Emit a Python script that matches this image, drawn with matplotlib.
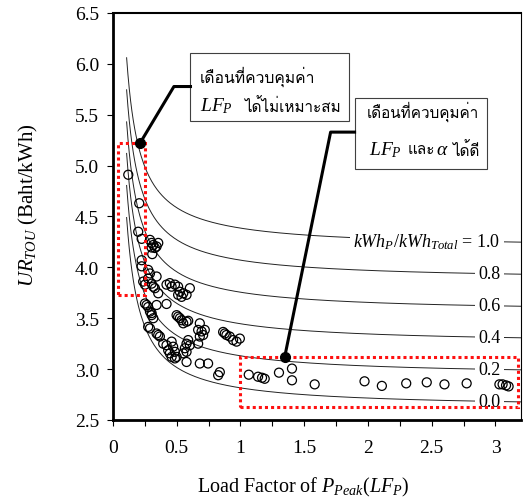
import numpy as np
import matplotlib
matplotlib.use('Agg')
import matplotlib.pyplot as plt
from matplotlib import font_manager, ft2font
from matplotlib.patches import Rectangle

# measured months: load factor of peak power vs TOU unit rate
lf_p = [0.12, 0.206, 0.198, 0.225, 0.29, 0.303, 0.316, 0.355, 0.342, 0.303, 0.329, 0.308,
        0.225, 0.225, 0.276, 0.29, 0.342, 0.276, 0.237, 0.251, 0.303, 0.316, 0.329, 0.355,
        0.42, 0.446, 0.46, 0.486, 0.511, 0.525, 0.511, 0.538, 0.551, 0.577, 0.603,
        0.251, 0.264, 0.276, 0.342, 0.42, 0.29, 0.303, 0.303, 0.316,
        0.499, 0.511, 0.525, 0.538, 0.577, 0.551, 0.59,
        0.681, 0.668, 0.695, 0.72, 0.707, 0.681,
        0.864, 0.877, 0.89, 0.916, 0.942, 0.969, 0.995,
        0.276, 0.29, 0.342, 0.355, 0.368, 0.394, 0.42, 0.46, 0.472, 0.433, 0.446, 0.486,
        0.46, 0.486, 0.499, 0.577, 0.59, 0.603, 0.564, 0.577, 0.551, 0.668,
        0.577, 0.681, 0.746, 0.838, 0.825,
        1.065, 1.138, 1.169, 1.19, 1.302, 1.404, 1.404, 1.582, 1.973, 2.109, 2.3,
        2.461, 2.6, 2.774, 3.031, 3.056, 3.083, 3.103]
ur_tou = [4.91, 4.63, 4.35, 4.28, 4.27, 4.24, 4.22, 4.24, 4.205, 4.195, 4.19, 4.13,
          4.07, 4.01, 3.975, 3.94, 3.91, 3.89, 3.86, 3.83, 3.84, 3.81, 3.795, 3.745,
          3.83, 3.845, 3.81, 3.83, 3.81, 3.76, 3.73, 3.71, 3.745, 3.73, 3.795,
          3.645, 3.63, 3.61, 3.63, 3.64, 3.565, 3.55, 3.53, 3.50,
          3.53, 3.515, 3.50, 3.48, 3.465, 3.45, 3.475,
          3.45, 3.385, 3.37, 3.385, 3.335, 3.32,
          3.365, 3.35, 3.335, 3.32, 3.285, 3.27, 3.30,
          3.415, 3.40, 3.35, 3.335, 3.32, 3.25, 3.235, 3.27, 3.22, 3.185, 3.155, 3.17,
          3.12, 3.105, 3.12, 3.25, 3.285, 3.235, 3.205, 3.17, 3.155, 3.25,
          3.07, 3.055, 3.055, 2.97, 2.94,
          2.945, 2.925, 2.915, 2.905, 2.965, 3.005, 2.89, 2.85, 2.88, 2.835, 2.86,
          2.87, 2.85, 2.86, 2.85, 2.85, 2.84, 2.83]

# iso-lines UR = a + b / LF for each peak energy share
share = [0.0, 0.2, 0.4, 0.6, 0.8, 1.0]
share_labels = ['0.0', '0.2', '0.4', '0.6', '0.8', r'$kWh_P/kWh_{Total}$ = 1.0']
curve_a = [2.615, 2.93, 3.245, 3.555, 3.87, 4.185]
curve_b = 0.2006

x_ticks = [0, 0.5, 1, 1.5, 2, 2.5, 3]
x_tick_labels = ['0', '0.5', '1', '1.5', '2', '2.5', '3']
y_ticks = [2.5, 3.0, 3.5, 4.0, 4.5, 5.0, 5.5, 6.0, 6.5]

# pick an installed font that has Thai glyphs (Loma looks closest)
thai_fonts = []
for f in font_manager.fontManager.ttflist:
    try:
        if 0x0E40 in ft2font.FT2Font(f.fname).get_charmap():
            thai_fonts.append(f.name)
    except Exception:
        pass
thai_font = 'Loma' if 'Loma' in thai_fonts else (thai_fonts[0] if thai_fonts else 'DejaVu Sans')

plt.rcParams['font.family'] = 'Liberation Serif'
plt.rcParams['mathtext.fontset'] = 'custom'
plt.rcParams['mathtext.rm'] = 'Liberation Serif'
plt.rcParams['mathtext.it'] = 'Liberation Serif:italic'
plt.rcParams['mathtext.bf'] = 'Liberation Serif:bold'

fig = plt.figure(figsize=(5.24, 5.02), dpi=100)
ax = fig.add_axes([0.2156, 0.1614, 0.7786, 0.8108])

lf = np.linspace(0.107, 3.2, 300)
for a, lab in zip(curve_a, share_labels):
    ax.plot(lf, a + curve_b / lf, color='#222222', lw=0.7, zorder=1)
    ax.text(3.04, a + curve_b / 2.95, lab, ha='right', va='center', fontsize=13,
            bbox=dict(facecolor='white', edgecolor='none', pad=2.5), zorder=2)

ax.scatter(lf_p, ur_tou, s=42, facecolors='none', edgecolors='black', linewidths=0.9, zorder=3)

# red dotted highlight regions
for x0, y0, x1, y1 in [(0.042, 3.73, 0.25, 5.225), (1.0, 2.627, 3.18, 3.114)]:
    ax.add_patch(Rectangle((x0, y0), x1 - x0, y1 - y0, fill=False, edgecolor='#ff1010',
                           lw=2.2, linestyle=(0, (1, 1)), zorder=4))

# callout boxes
ax.add_patch(Rectangle((0.608, 5.438), 1.242, 0.665, facecolor='white', edgecolor='#404040', lw=0.8, zorder=5))
ax.add_patch(Rectangle((1.895, 4.962), 1.042, 0.700, facecolor='white', edgecolor='#404040', lw=0.8, zorder=5))
ax.plot([0.608, 0.478, 0.211], [5.777, 5.777, 5.218], color='black', lw=2.2, zorder=5)
ax.plot([0.211], [5.218], 'o', color='black', ms=7, zorder=6)
ax.plot([1.895, 1.707, 1.347], [5.329, 5.329, 3.12], color='black', lw=2.2, zorder=5)
ax.plot([1.347], [3.12], 'o', color='black', ms=7, zorder=6)

ax.text(0.681, 5.882, 'เดือนที่ควบคุมค่า', family=thai_font, fontsize=11.3, va='center', zorder=7)
ax.text(0.681, 5.593, r'$LF_P$', fontsize=14, va='center', zorder=7)
ax.text(1.026, 5.593, 'ได้ไม่เหมาะสม', family=thai_font, fontsize=11, va='center', zorder=7)
ax.text(1.987, 5.536, 'เดือนที่ควบคุมค่า', family=thai_font, fontsize=11, va='center', zorder=7)
ax.text(2.005, 5.159, r'$LF_P$', fontsize=14, va='center', zorder=7)
ax.text(2.31, 5.159, 'และ', family=thai_font, fontsize=11, va='center', zorder=7)
ax.text(2.537, 5.159, r'$\alpha$', fontsize=14, va='center', zorder=7)
ax.text(2.662, 5.159, 'ได้ดี', family=thai_font, fontsize=11, va='center', zorder=7)

ax.set_xlim(0, 3.2)
ax.set_ylim(2.5, 6.5)
ax.set_xticks(x_ticks)
ax.set_xticklabels(x_tick_labels)
ax.set_xticks(np.arange(0.25, 3.2, 0.5), minor=True)
ax.set_yticks(y_ticks)
ax.set_yticklabels(['%.1f' % v for v in y_ticks])
ax.tick_params(which='both', direction='out', length=4, width=0.8, labelsize=14)
ax.tick_params(axis='x', pad=10)
ax.tick_params(axis='y', pad=6)

ax.spines['left'].set_linewidth(2.0)
ax.spines['bottom'].set_linewidth(2.0)
ax.spines['top'].set_linewidth(1.5)
ax.spines['right'].set_linewidth(0.8)

ax.set_xlabel(r'Load Factor of $P_{Peak}(LF_P)$', fontsize=14.5)
ax.xaxis.set_label_coords(0.467, -0.135)
ax.set_ylabel(r'$UR_{TOU}$ (Baht/kWh)', fontsize=15)
ax.yaxis.set_label_coords(-0.178, 0.53)

fig.savefig('out.png', dpi=100)
